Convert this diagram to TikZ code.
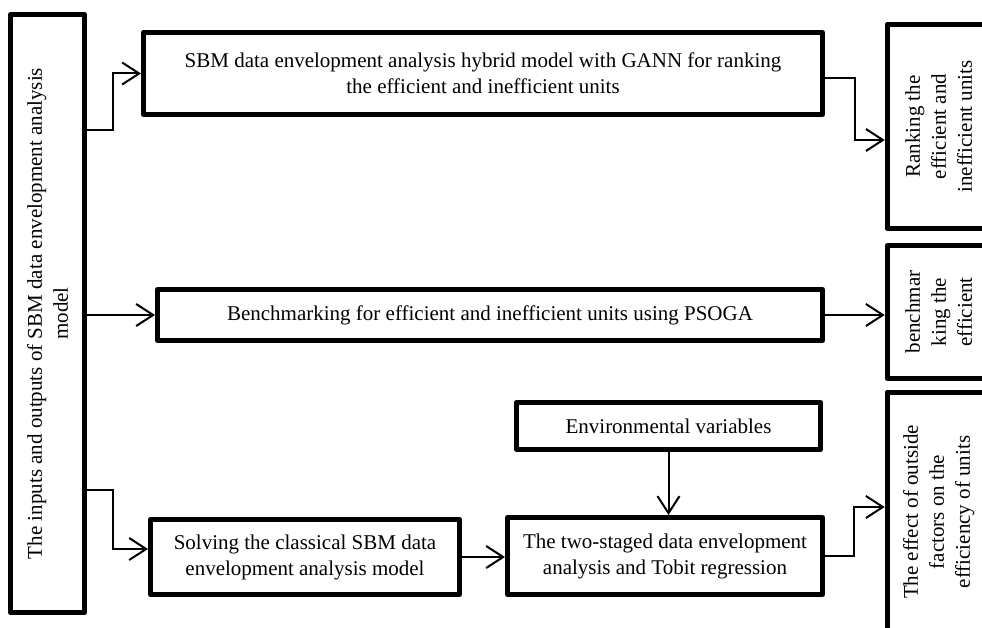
\documentclass[tikz,border=0pt]{standalone}
\usepackage{fontspec}
\setmainfont{Liberation Serif}
\usetikzlibrary{arrows.meta, positioning}

\begin{document}
\begin{tikzpicture}[
        x=1pt, y=-1pt,
        >={Straight Barb[length=17pt, width=22pt]},
        % Style for the thick framed boxes
        stage/.style={rectangle, draw=black, line width=5pt, line join=round, fill=white, align=center, inner sep=0pt, font=\fontsize{21}{26}\selectfont},
        % Style for the thin connectors
        conn/.style={->, line width=2pt}
    ]

        \clip (0,0) rectangle (982,628);

        % --- Left input box ---
        \node[stage, rotate=90, minimum width=598pt, minimum height=74pt] (inp) at (47.5,313.5) {The inputs and outputs of SBM data envelopment analysis\\model};

        % --- Middle boxes ---
        \node[stage, minimum width=679pt, minimum height=82pt] (gann) at (483,73.5) {SBM data envelopment analysis hybrid model with GANN for ranking\\the efficient and inefficient units};
        \node[stage, minimum width=665pt, minimum height=51pt] (pso) at (490,315) {Benchmarking for efficient and inefficient units using PSOGA};
        \node[stage, minimum width=304pt, minimum height=47pt] (env) at (668.5,426) {Environmental variables};
        \node[stage, minimum width=309pt, minimum height=75pt] (sbm) at (305,557) {Solving the classical SBM data\\envelopment analysis model};
        \node[stage, minimum width=315pt, minimum height=77pt] (tobit) at (665,556) {The two-staged data envelopment\\analysis and Tobit regression};

        % --- Right output boxes ---
        \node[stage, rotate=90, minimum width=204pt, minimum height=103pt] (rank) at (938.75,126.5) {Ranking the\\efficient and\\inefficient units};
        \node[stage, rotate=90, minimum width=133pt, minimum height=103pt] (bmk) at (938.75,312) {benchmar\\king the\\efficient};
        \node[stage, rotate=90, minimum width=240pt, minimum height=103pt] (eff) at (938.75,512) {The effect of outside\\factors on the\\efficiency of units};

        % --- Connectors from the input box ---
        \draw[conn] ([yshift=183.5pt]inp.south) -- ++(26,0) |- (gann.west);
        \draw[conn] (pso.west -| inp.south) -- (pso.west);
        \draw[conn] ([yshift=-176.5pt]inp.south) -- ++(26,0) |- ([yshift=8pt]sbm.west);

        % --- Second stage ---
        \draw[conn] (sbm.east) -- (sbm.east -| tobit.west);
        \draw[conn] (env.south) -- (env.south |- tobit.north);

        % --- Connectors to the outputs ---
        \draw[conn] ([yshift=-4.5pt]gann.east) -- ++(30,0) |- ([yshift=-13.5pt]rank.north);
        \draw[conn] (pso.east) -- (pso.east -| bmk.north);
        \draw[conn] (tobit.east) -- ++(29,0) |- ([yshift=5pt]eff.north);

    \end{tikzpicture}
\end{document}
